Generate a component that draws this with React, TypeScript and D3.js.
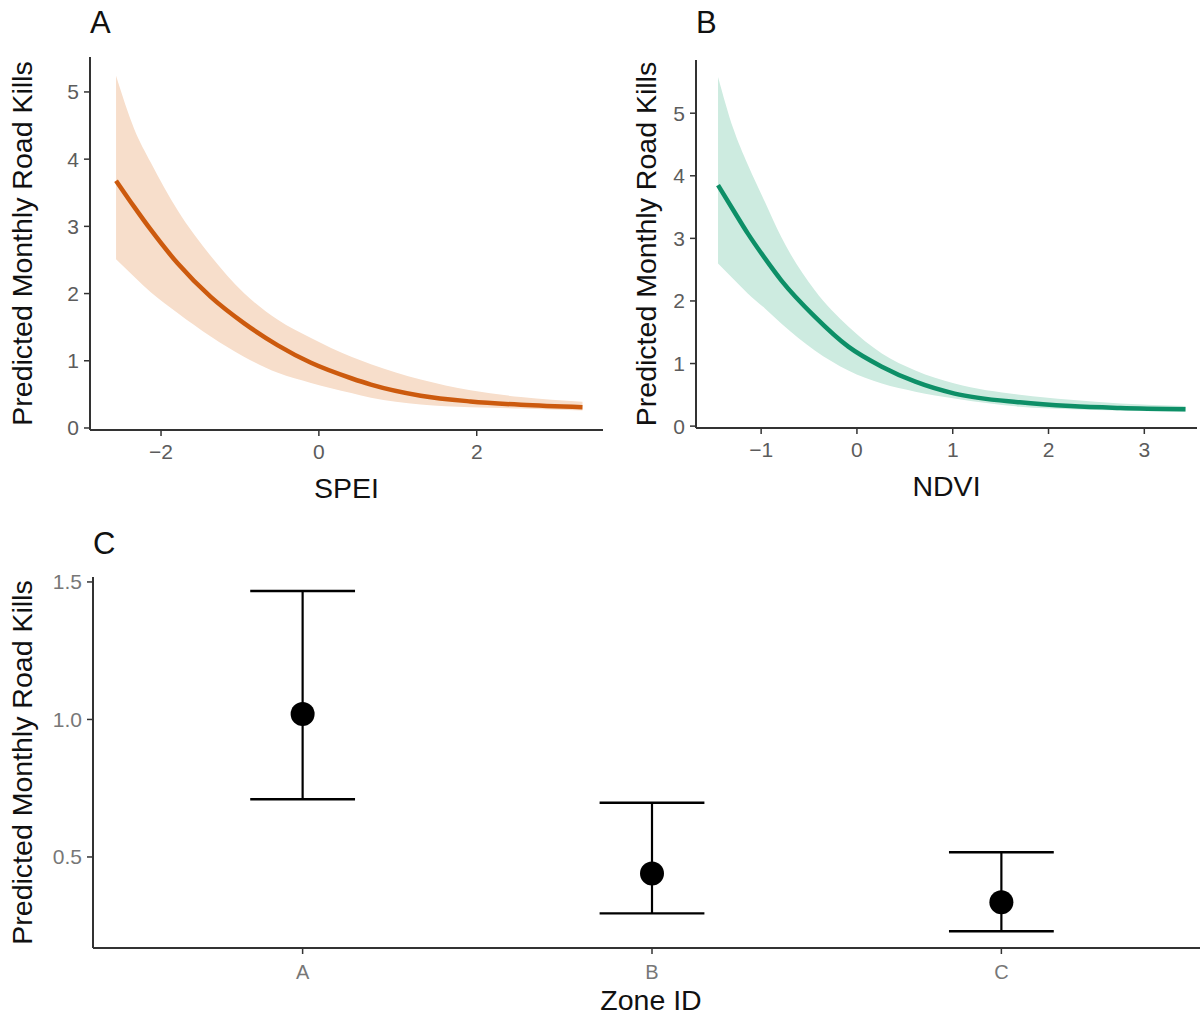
import React from "react";
import * as d3 from "d3";

// Panel A: SPEI
const speiX = [-2.57, -2.34, -2.13, -1.79, -1.37, -0.95, -0.52, -0.10, 0.41, 0.66, 1.29, 1.92, 2.56, 3.34];
const speiFit = [3.68, 3.29, 2.95, 2.45, 1.95, 1.56, 1.23, 0.97, 0.74, 0.645, 0.48, 0.395, 0.345, 0.31];
const speiUpper = [5.24, 4.45, 3.95, 3.24, 2.56, 2.01, 1.61, 1.34, 1.06, 0.95, 0.72, 0.56, 0.46, 0.39];
const speiLower = [2.51, 2.25, 2.02, 1.71, 1.36, 1.06, 0.82, 0.67, 0.52, 0.45, 0.35, 0.31, 0.29, 0.26];
const speiTicksX = [-2, 0, 2];
const speiTicksY = [0, 1, 2, 3, 4, 5];

// Panel B: NDVI
const ndviX = [-1.45, -1.29, -1.14, -0.96, -0.79, -0.44, -0.09, 0.26, 0.61, 1.02, 1.70, 2.23, 2.75, 3.43];
const ndviFit = [3.85, 3.45, 3.08, 2.68, 2.33, 1.75, 1.27, 0.95, 0.71, 0.52, 0.38, 0.32, 0.29, 0.27];
const ndviUpper = [5.58, 4.75, 4.18, 3.58, 3.02, 2.17, 1.59, 1.16, 0.89, 0.68, 0.50, 0.42, 0.36, 0.32];
const ndviLower = [2.60, 2.35, 2.12, 1.88, 1.64, 1.21, 0.89, 0.68, 0.55, 0.44, 0.31, 0.27, 0.25, 0.23];
const ndviTicksX = [-1, 0, 1, 2, 3];
const ndviTicksY = [0, 1, 2, 3, 4, 5];

// Panel C: Zone
const zones = ["A", "B", "C"];
const zoneFit = [1.02, 0.44, 0.335];
const zoneLower = [0.71, 0.295, 0.23];
const zoneUpper = [1.467, 0.697, 0.517];
const zoneTicksY = [0.5, 1.0, 1.5];

const YLABEL = "Predicted Monthly Road Kills";
const FONT = "'Liberation Sans', Arial, sans-serif";
const AXIS = "#333333";
const TICKTXT = "#5c5c5c";
const TITLE = 28.5;

type CurveProps = {
  xs: number[]; fit: number[]; lo: number[]; hi: number[];
  xDomain: [number, number]; yDomain: [number, number];
  left: number; right: number; top: number; bottom: number;
  xTicks: number[]; yTicks: number[];
  line: string; ribbon: string; tag: string; xTitle: string; yTitleX: number;
};

function fmt(v: number) {
  return v < 0 ? "\u2212" + Math.abs(v) : String(v);
}

function CurvePanel(p: CurveProps) {
  const x = d3.scaleLinear().domain(p.xDomain).range([p.left, p.right]);
  const y = d3.scaleLinear().domain(p.yDomain).range([p.bottom, p.top]);
  const idx = p.xs.map((_, i) => i);
  const area = d3.area<number>()
    .x((i) => x(p.xs[i]))
    .y0((i) => y(p.lo[i]))
    .y1((i) => y(p.hi[i]))
    .curve(d3.curveMonotoneX);
  const line = d3.line<number>()
    .x((i) => x(p.xs[i]))
    .y((i) => y(p.fit[i]))
    .curve(d3.curveMonotoneX);
  const cy = (p.top + p.bottom) / 2;
  return (
    <g>
      <path d={area(idx) || ""} fill={p.ribbon} />
      <path d={line(idx) || ""} fill="none" stroke={p.line} strokeWidth={4.5} />
      <line x1={p.left} x2={p.left} y1={p.top} y2={p.bottom} stroke={AXIS} strokeWidth={2} />
      <line x1={p.left} x2={p.right} y1={p.bottom} y2={p.bottom} stroke={AXIS} strokeWidth={2} />
      {p.yTicks.map((t) => (
        <g key={"y" + t}>
          <line x1={p.left - 6} x2={p.left} y1={y(t)} y2={y(t)} stroke={AXIS} strokeWidth={1.5} />
          <text x={p.left - 11} y={y(t) + 7.5} textAnchor="end" fontSize={21} fill={TICKTXT} fontFamily={FONT}>{fmt(t)}</text>
        </g>
      ))}
      {p.xTicks.map((t) => (
        <g key={"x" + t}>
          <line x1={x(t)} x2={x(t)} y1={p.bottom} y2={p.bottom + 6} stroke={AXIS} strokeWidth={1.5} />
          <text x={x(t)} y={p.bottom + 29} textAnchor="middle" fontSize={21} fill={TICKTXT} fontFamily={FONT}>{fmt(t)}</text>
        </g>
      ))}
      <text x={(p.left + p.right) / 2} y={p.bottom + 68} textAnchor="middle" fontSize={TITLE} fill="#111" fontFamily={FONT}>{p.xTitle}</text>
      <text transform={`translate(${p.yTitleX},${cy}) rotate(-90)`} textAnchor="middle" fontSize={TITLE} fill="#111" fontFamily={FONT}>{YLABEL}</text>
      <text x={p.left} y={33} fontSize={31} fill="#111" fontFamily={FONT}>{p.tag}</text>
    </g>
  );
}

function ZonePanel() {
  const left = 93, right = 1211, top = 577, bottom = 948;
  const x = d3.scalePoint<string>().domain(zones).range([left, right]).padding(0.6);
  const y = d3.scaleLinear().domain([0.169, 1.518]).range([bottom, top]);
  const half = x.step() * 0.15;
  return (
    <g>
      {zones.map((z, i) => (
        <g key={z}>
          <line x1={x(z)!} x2={x(z)!} y1={y(zoneLower[i])} y2={y(zoneUpper[i])} stroke="#000" strokeWidth={2.2} />
          <line x1={x(z)! - half} x2={x(z)! + half} y1={y(zoneUpper[i])} y2={y(zoneUpper[i])} stroke="#000" strokeWidth={2.4} />
          <line x1={x(z)! - half} x2={x(z)! + half} y1={y(zoneLower[i])} y2={y(zoneLower[i])} stroke="#000" strokeWidth={2.4} />
          <circle cx={x(z)!} cy={y(zoneFit[i])} r={12} fill="#000" />
        </g>
      ))}
      <line x1={left} x2={left} y1={top} y2={bottom} stroke={AXIS} strokeWidth={2} />
      <line x1={left} x2={1200} y1={bottom} y2={bottom} stroke={AXIS} strokeWidth={2} />
      {zoneTicksY.map((t) => (
        <g key={t}>
          <line x1={left - 6} x2={left} y1={y(t)} y2={y(t)} stroke={AXIS} strokeWidth={1.5} />
          <text x={left - 11} y={y(t) + 7.5} textAnchor="end" fontSize={21} fill="#777" fontFamily={FONT}>{t.toFixed(1)}</text>
        </g>
      ))}
      {zones.map((z) => (
        <g key={"t" + z}>
          <line x1={x(z)!} x2={x(z)!} y1={bottom} y2={bottom + 6} stroke={AXIS} strokeWidth={1.5} />
          <text x={x(z)!} y={bottom + 31} textAnchor="middle" fontSize={20} fill="#777" fontFamily={FONT}>{z}</text>
        </g>
      ))}
      <text x={651} y={1010} textAnchor="middle" fontSize={TITLE} fill="#111" fontFamily={FONT}>Zone ID</text>
      <text transform={`translate(32,${(top + bottom) / 2}) rotate(-90)`} textAnchor="middle" fontSize={TITLE} fill="#111" fontFamily={FONT}>{YLABEL}</text>
      <text x={93} y={554} fontSize={31} fill="#111" fontFamily={FONT}>C</text>
    </g>
  );
}

export default function App() {
  return (
    <svg width={1200} height={1017} style={{ position: "absolute", left: 0, top: 0, background: "#fff" }}>
      <rect width={1200} height={1017} fill="#fff" />
      <CurvePanel
        xs={speiX} fit={speiFit} lo={speiLower} hi={speiUpper}
        xDomain={[-2.9, 3.6]} yDomain={[-0.03, 5.52]}
        left={90} right={603} top={57} bottom={430}
        xTicks={speiTicksX} yTicks={speiTicksY}
        line="#CC5A0E" ribbon="#F7DECB" tag="A" xTitle="SPEI" yTitleX={32}
      />
      <CurvePanel
        xs={ndviX} fit={ndviFit} lo={ndviLower} hi={ndviUpper}
        xDomain={[-1.68, 3.55]} yDomain={[-0.03, 5.85]}
        left={696} right={1197} top={60} bottom={428}
        xTicks={ndviTicksX} yTicks={ndviTicksY}
        line="#0D8F67" ribbon="#CDEBE0" tag="B" xTitle="NDVI" yTitleX={656}
      />
      <ZonePanel />
    </svg>
  );
}
